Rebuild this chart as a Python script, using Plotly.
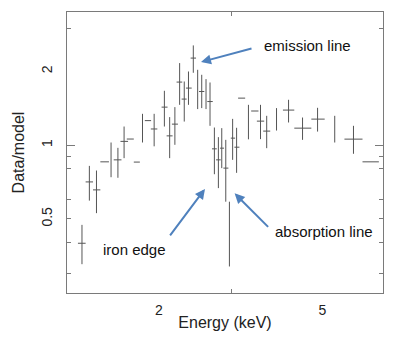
import numpy as np
import plotly.graph_objects as go

# energy bins (keV): centre, low edge, high edge
energy = [1.30, 1.355, 1.41, 1.476, 1.53, 1.59, 1.646, 1.704, 1.768, 1.825,
          1.88, 1.948, 2.063, 2.125, 2.188, 2.247, 2.306, 2.361, 2.426, 2.486,
          2.543, 2.605, 2.664, 2.730, 2.792, 2.845, 2.910, 2.970, 3.024, 3.092,
          3.180, 3.304, 3.425, 3.535, 3.660, 3.867, 4.137, 4.474, 4.867, 5.358,
          5.952, 6.556]
energy_lo = [1.271, 1.327, 1.383, 1.441, 1.53, 1.553, 1.613, 1.671, 1.738, 1.825,
             1.849, 1.912, 2.031, 2.089, 2.152, 2.209, 2.272, 2.328, 2.390, 2.486,
             2.505, 2.605, 2.624, 2.694, 2.756, 2.818, 2.871, 2.970, 2.993, 3.054,
             3.118, 3.304, 3.355, 3.464, 3.589, 3.867, 4.009, 4.272, 4.700, 5.358,
             5.658, 6.261]
energy_hi = [1.327, 1.383, 1.441, 1.512, 1.53, 1.622, 1.683, 1.738, 1.798, 1.825,
             1.915, 1.983, 2.100, 2.160, 2.226, 2.280, 2.337, 2.404, 2.463, 2.486,
             2.580, 2.605, 2.705, 2.767, 2.829, 2.882, 2.953, 2.970, 3.066, 3.141,
             3.244, 3.304, 3.495, 3.609, 3.733, 3.867, 4.272, 4.700, 5.065, 5.358,
             6.261, 6.862]

# data/model ratio: value, lower and upper end of the error bar
ratio = [0.398, 0.708, 0.657, 0.855, 0.871, 0.871, 1.036, 1.059, 0.853, 1.177,
         1.259, 1.164, 1.429, 1.091, 1.218, 1.808, 1.541, 1.709, 2.265, 1.682,
         1.655, 1.620, 1.506, 0.966, 0.871, 0.972, 0.806, 0.435, 1.068, 0.981,
         1.555, 1.245, 1.378, 1.253, 1.141, 1.274, 1.390, 1.173, 1.277, 1.162,
         1.058, 0.855]
ratio_lo = [0.327, 0.594, 0.528, 0.855, 0.740, 0.736, 0.885, 1.059, 0.853, 1.025,
            1.259, 0.989, 1.191, 0.885, 1.003, 1.460, 1.248, 1.460, 1.973, 1.403,
            1.416, 1.403, 1.199, 0.761, 0.668, 0.806, 0.588, 0.320, 0.871, 0.771,
            1.555, 1.056, 1.378, 1.058, 0.972, 1.147, 1.237, 1.051, 1.136, 1.025,
            0.922, 0.855]
ratio_hi = [0.473, 0.823, 0.788, 0.855, 1.025, 0.975, 1.191, 1.059, 0.853, 1.342,
            1.259, 1.342, 1.666, 1.301, 1.429, 2.161, 1.818, 1.997, 2.551, 2.029,
            1.936, 1.859, 1.801, 1.180, 1.078, 1.173, 1.051, 0.588, 1.280, 1.177,
            1.555, 1.460, 1.378, 1.460, 1.317, 1.416, 1.531, 1.296, 1.420, 1.317,
            1.199, 0.855]

x_ticks = [2, 5]
y_ticks = [0.5, 1, 2]
y_minor = [0.3, 0.4, 0.5, 0.6, 0.8, 0.9, 3]

e = np.array(energy)
r = np.array(ratio)

ink = "#555555"
frame = "#7a7a7a"
arrow_blue = "#4f81bd"
font = "Liberation Sans, Arial, Helvetica, sans-serif"

fig = go.Figure()
fig.add_trace(go.Scatter(
    x=e, y=r, mode="markers",
    marker=dict(size=1, color=ink, opacity=0),
    error_x=dict(type="data", symmetric=False,
                 array=np.array(energy_hi) - e, arrayminus=e - np.array(energy_lo),
                 color=ink, thickness=1, width=0),
    error_y=dict(type="data", symmetric=False,
                 array=np.array(ratio_hi) - r, arrayminus=r - np.array(ratio_lo),
                 color=ink, thickness=1, width=0),
    showlegend=False, hoverinfo="skip",
))
# empty trace so the overlay axis (long tick at 1) is drawn
fig.add_trace(go.Scatter(x=[], y=[], yaxis="y2", showlegend=False, hoverinfo="skip"))

xr = [0.0775, 0.8465]
yr = [-0.603, 0.543]

# page body has an 8px margin, so the figure is 8px smaller and shifted
fig.update_layout(
    width=391, height=333,
    margin=dict(l=59, r=16, t=4, b=48, autoexpand=False),
    paper_bgcolor="white", plot_bgcolor="white",
    font=dict(family=font, color="#222222", size=14),
    xaxis=dict(
        type="log", range=xr, automargin=False,
        tickmode="array", tickvals=x_ticks, ticktext=[str(v) for v in x_ticks],
        ticks="", showgrid=False, zeroline=False,
        showline=True, linecolor=frame, linewidth=1, mirror="ticks",
        minor=dict(tickmode="array", tickvals=[3], ticks="inside",
                   ticklen=4, tickcolor=frame, showgrid=False),
        tickfont=dict(size=14),
        ticklabelstandoff=4,
        title=dict(text="Energy (keV)", font=dict(size=16), standoff=0),
    ),
    yaxis=dict(
        type="log", range=yr, automargin=False,
        tickmode="array", tickvals=y_ticks, ticktext=["0.5", "1", "2"],
        tickangle=-90,
        ticks="", showgrid=False, zeroline=False,
        showline=True, linecolor=frame, linewidth=1, mirror="ticks",
        minor=dict(tickmode="array", tickvals=y_minor, ticks="inside",
                   ticklen=4, tickcolor=frame, showgrid=False),
        tickfont=dict(size=14),
        ticklabelstandoff=8,
        title=dict(text="Data/model", font=dict(size=16), standoff=10),
    ),
    yaxis2=dict(
        type="log", range=yr, overlaying="y", side="left", automargin=False,
        tickmode="array", tickvals=[1], ticks="inside", ticklen=8,
        tickcolor=frame, showticklabels=False, showgrid=False,
        zeroline=False, showline=False, mirror="ticks",
    ),
)

# arrows (head in data units, tail as pixel offset)
for hx, hy, ax, ay in [(0.4036, 0.3388, 52, -14),
                       (0.4133, -0.1784, -36, 48),
                       (0.4854, -0.1967, 35, 35)]:
    fig.add_annotation(x=hx, y=hy, xref="x", yref="y", text="",
                       showarrow=True, ax=ax, ay=ay, axref="pixel", ayref="pixel",
                       arrowhead=2, arrowsize=1, arrowwidth=2,
                       arrowcolor=arrow_blue, standoff=0)

for tx, ty, label in [(0.5525, 0.4053, "emission line"),
                      (0.5794, -0.3539, "absorption line"),
                      (0.1594, -0.4274, "iron edge")]:
    fig.add_annotation(x=tx, y=ty, xref="x", yref="y", text=label,
                       showarrow=False, xanchor="left", yanchor="middle",
                       font=dict(size=15, color="#111111"))

fig.write_html("out.html")
